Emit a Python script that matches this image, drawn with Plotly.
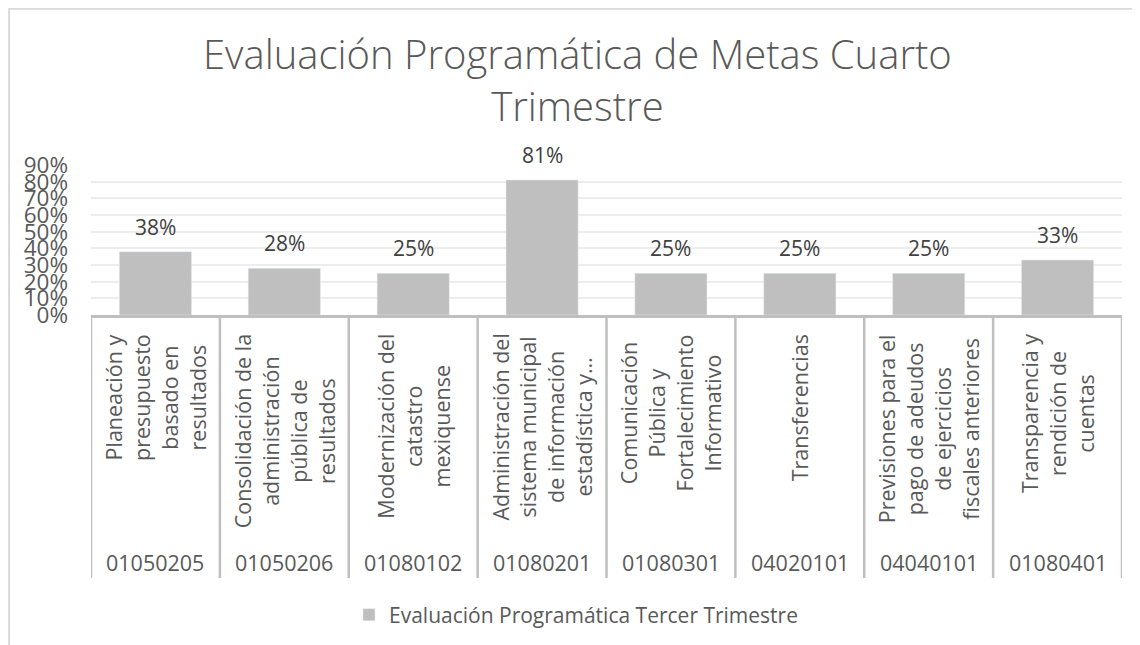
import plotly.graph_objects as go

# datos de la grafica
codigos = ["01050205", "01050206", "01080102", "01080201",
           "01080301", "04020101", "04040101", "01080401"]
programas = [
    "Planeación y<br>presupuesto<br>basado en<br>resultados",
    "Consolidación de la<br>administración<br>pública de<br>resultados",
    "Modernización del<br>catastro<br>mexiquense",
    "Administración del<br>sistema municipal<br>de información<br>estadística y…",
    "Comunicación<br>Pública y<br>Fortalecimiento<br>Informativo",
    "Transferencias",
    "Previsiones para el<br>pago de adeudos<br>de ejercicios<br>fiscales anteriores",
    "Transparencia y<br>rendición de<br>cuentas",
]
avance = [0.38, 0.28, 0.25, 0.81, 0.25, 0.25, 0.25, 0.33]
serie = "Evaluación Programática Tercer Trimestre"
titulo = "Evaluación Programática de Metas Cuarto<br>Trimestre"

# la pagina deja 8px de margen, asi que la figura empieza en (8, 8)
OFF = 8
W, H = 1140 - OFF, 645 - OFF
FONT = "Open Sans"
GRIS_TXT = "#595959"
GRIS_BARRA = "#bfbfbf"


def px_x(px):
    return (px - OFF) / W


def px_y(px):
    return 1 - (px - OFF) / H


idx = list(range(len(codigos)))

fig = go.Figure()
fig.add_trace(go.Bar(
    x=idx, y=avance, name=serie, width=0.56,
    marker_color=GRIS_BARRA, hoverinfo="skip",
))

anotaciones = [dict(
    x=px_x(577), y=px_y(24), xref="paper", yref="paper",
    text=titulo, showarrow=False, xanchor="center", yanchor="top", align="center",
    font=dict(family=FONT, size=40, color=GRIS_TXT, weight=300),
)]
for i, v in zip(idx, avance):
    anotaciones.append(dict(
        x=i, y=v, xref="x", yref="y", text=f"{v:.0%}", showarrow=False,
        yanchor="bottom", yshift=9, font=dict(family=FONT, size=21, color="#404040"),
    ))
for i, p, c in zip(idx, programas, codigos):
    anotaciones.append(dict(
        x=i, y=px_y(332), xref="x", yref="paper", text=p, showarrow=False,
        textangle=-90, align="center", xanchor="center", yanchor="top",
        font=dict(family=FONT, size=21.5, color=GRIS_TXT),
    ))
    anotaciones.append(dict(
        x=i, y=px_y(562), xref="x", yref="paper", text=c, showarrow=False,
        xanchor="center", yanchor="middle",
        font=dict(family=FONT, size=21.5, color=GRIS_TXT),
    ))

formas = []
for i in range(len(codigos) + 1):
    formas.append(dict(
        type="line", xref="x", yref="paper", x0=i - 0.5, x1=i - 0.5,
        y0=px_y(578), y1=px_y(315), line=dict(color=GRIS_BARRA, width=2.5),
    ))
# marco del grafico
formas.append(dict(type="rect", xref="paper", yref="paper",
                   x0=0.001, x1=1.05, y0=-0.05, y1=0.999,
                   line=dict(color="#d9d9d9", width=2)))

fig.update_layout(
    width=W, height=H,
    margin=dict(l=0, r=0, t=0, b=0, autoexpand=False),
    paper_bgcolor="white", plot_bgcolor="white",
    showlegend=True,
    xaxis=dict(domain=[px_x(91), px_x(1122)], range=[-0.5, 7.5],
               showticklabels=False, showgrid=False, zeroline=False,
               showline=True, linecolor=GRIS_BARRA, linewidth=2.5),
    yaxis=dict(domain=[px_y(315), px_y(165)], range=[0, 0.9], dtick=0.1,
               tickformat=".0%", showgrid=True, gridcolor="#ededed", gridwidth=1.5,
               zeroline=False, showline=False, ticks="", ticklabelstandoff=22,
               tickfont=dict(family=FONT, size=22.5, color=GRIS_TXT)),
    legend=dict(orientation="h", x=px_x(576), xanchor="center", y=px_y(615), yanchor="middle",
                font=dict(family=FONT, size=21, color=GRIS_TXT)),
    annotations=anotaciones,
    shapes=formas,
)

fig.write_html("out.html")
